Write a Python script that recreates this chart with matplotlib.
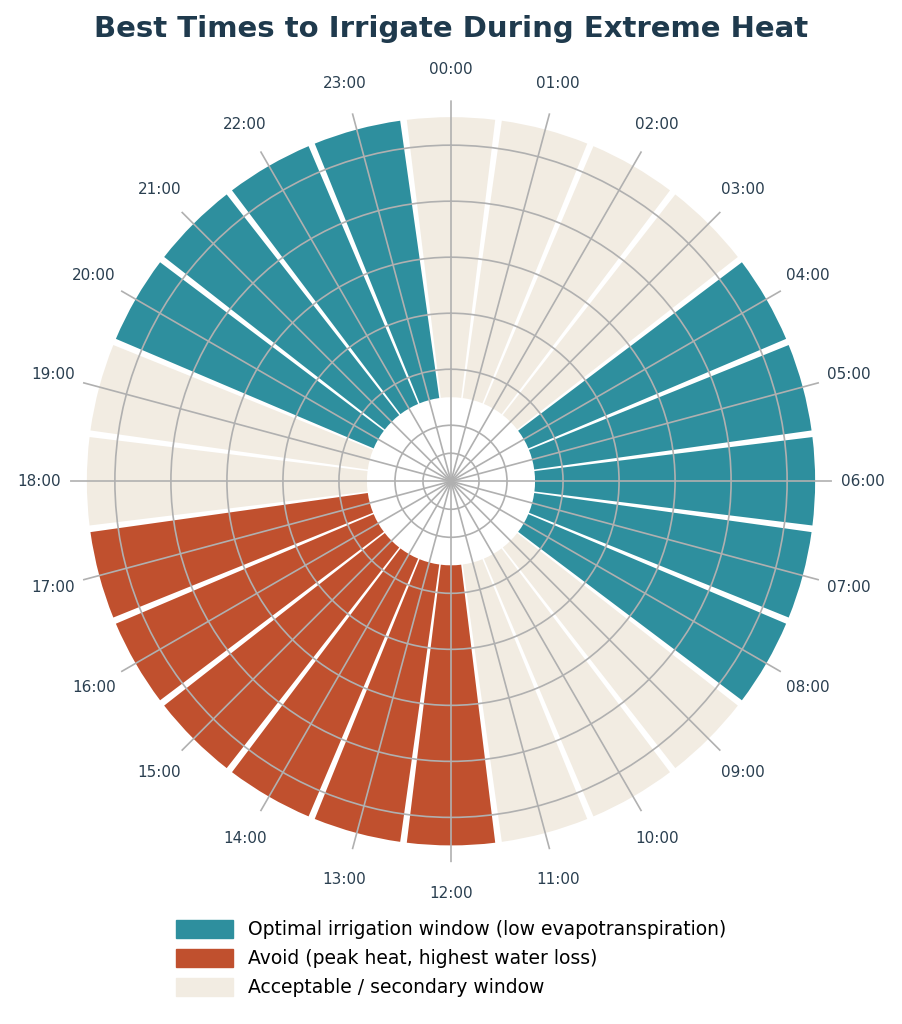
import numpy as np
import matplotlib
matplotlib.use('Agg')
import matplotlib.pyplot as plt
from matplotlib.patches import Patch

hours = [f'{h:02d}:00' for h in range(24)]
optimal_hours = [4, 5, 6, 7, 8, 20, 21, 22, 23]
avoid_hours = [12, 13, 14, 15, 16, 17]
bar_length = [1.0] * 24

c_opt = '#2E8F9E'
c_avoid = '#C0502E'
c_ok = '#F2ECE2'

colors = []
for h in range(24):
    if h in optimal_hours:
        colors.append(c_opt)
    elif h in avoid_hours:
        colors.append(c_avoid)
    else:
        colors.append(c_ok)

fig = plt.figure(figsize=(9.02, 10.24), dpi=100)
ax = fig.add_axes([0.0775, 0.158, 0.845, 0.744], projection='polar')
ax.set_theta_zero_location('N')
ax.set_theta_direction(-1)

theta = np.arange(24) * 2 * np.pi / 24
ax.bar(theta, bar_length, width=2 * np.pi / 24 * 0.93, bottom=0.3,
       color=colors, edgecolor='none', zorder=1)

ax.set_ylim(0, 1.36)
ax.set_yticks([0.1, 0.2, 0.4, 0.6, 0.8, 1.0, 1.2])
ax.set_yticklabels([])
ax.set_xticks(theta)
ax.set_xticklabels(hours, fontsize=11, color='#2a3f50')
ax.tick_params(axis='x', pad=12)
ax.set_axisbelow(False)
ax.grid(True, color='#b0b0b0', linewidth=1.2)
ax.spines['polar'].set_visible(False)

fig.suptitle('Best Times to Irrigate During Extreme Heat', fontsize=21,
             fontweight='bold', color='#1f3a4d', y=0.985)

handles = [Patch(color=c_opt, label='Optimal irrigation window (low evapotranspiration)'),
           Patch(color=c_avoid, label='Avoid (peak heat, highest water loss)'),
           Patch(color=c_ok, label='Acceptable / secondary window')]
fig.legend(handles=handles, loc='lower center', bbox_to_anchor=(0.5, 0.01),
           frameon=False, fontsize=13.5, handlelength=3, handleheight=1.1)

fig.savefig('out.png', dpi=100)
